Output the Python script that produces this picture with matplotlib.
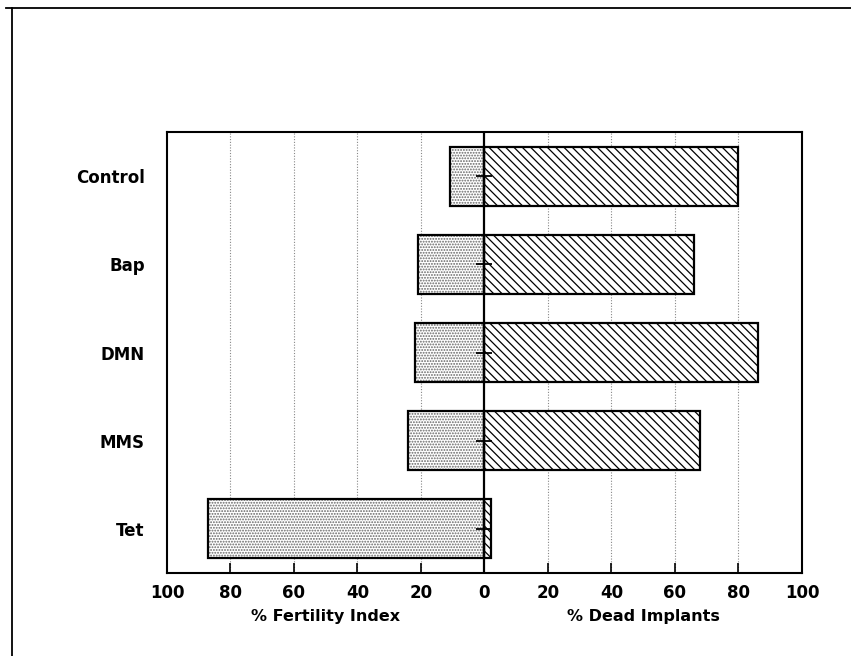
import matplotlib
matplotlib.use("Agg")
import matplotlib.pyplot as plt
from matplotlib.lines import Line2D
import numpy as np

categories = ["Control", "Bap", "DMN", "MMS", "Tet"]
fertility_index = [11, 21, 22, 24, 87]
dead_implants = [80, 66, 86, 68, 2]
tick_values = [-100, -80, -60, -40, -20, 0, 20, 40, 60, 80, 100]
tick_labels = ["100", "80", "60", "40", "20", "0", "20", "40", "60", "80", "100"]

plt.rcParams['font.family'] = ['DejaVu Sans']
plt.rcParams['hatch.linewidth'] = 0.9

fig = plt.figure(figsize=(8.51, 6.56), dpi=100)
ax = fig.add_axes([0.1962, 0.1265, 0.7462, 0.6723])

y = np.arange(len(categories))
h = 0.67

# gridlines
for t in tick_values:
    if t not in (0, -100, 100):
        ax.axvline(t, color="#888888", linestyle=(0, (1, 1.5)), linewidth=0.8, zorder=0)

# fertility (left, stippled)
ax.barh(y, [-v for v in fertility_index], height=h, color="white",
        edgecolor="#666666", hatch="......", linewidth=0, zorder=2)
ax.barh(y, [-v for v in fertility_index], height=h, fill=False,
        edgecolor="black", linewidth=1.6, zorder=3)
# dead implants (right, diagonal)
ax.barh(y, dead_implants, height=h, color="white",
        edgecolor="black", hatch="\\\\\\\\", linewidth=0, zorder=2)
ax.barh(y, dead_implants, height=h, fill=False,
        edgecolor="black", linewidth=1.6, zorder=3)

ax.axvline(0, color="black", linewidth=1.6, zorder=4)
ax.plot(np.zeros(len(y)), y, linestyle="none", marker="_", markersize=12,
        markeredgewidth=1.3, color="black", zorder=5)

ax.set_xlim(-100, 100)
ax.set_ylim(len(categories) - 0.5, -0.5)
ax.set_xticks(tick_values)
ax.set_xticklabels(tick_labels, fontsize=12, fontweight="bold")
ax.set_yticks(y)
ax.set_yticklabels(categories, fontsize=12, fontweight="bold")
ax.tick_params(axis="x", direction="in", length=7, width=1.2, pad=8, top=False)
ax.tick_params(axis="y", length=0, pad=16)
for s in ax.spines.values():
    s.set_linewidth(1.5)

fig.text(0.383, 1 - 617/656, "% Fertility Index", ha="center", va="center",
         fontsize=11.5, fontweight="bold")
fig.text(0.756, 1 - 617/656, "% Dead Implants", ha="center", va="center",
         fontsize=11.5, fontweight="bold")

# outer frame lines
fig.add_artist(Line2D([12/851, 12/851], [0, 1 - 8/656], transform=fig.transFigure,
                      color="black", linewidth=1.3))
fig.add_artist(Line2D([6/851, 1], [1 - 8/656, 1 - 8/656], transform=fig.transFigure,
                      color="black", linewidth=1.3))

fig.savefig("out.png", dpi=100)
